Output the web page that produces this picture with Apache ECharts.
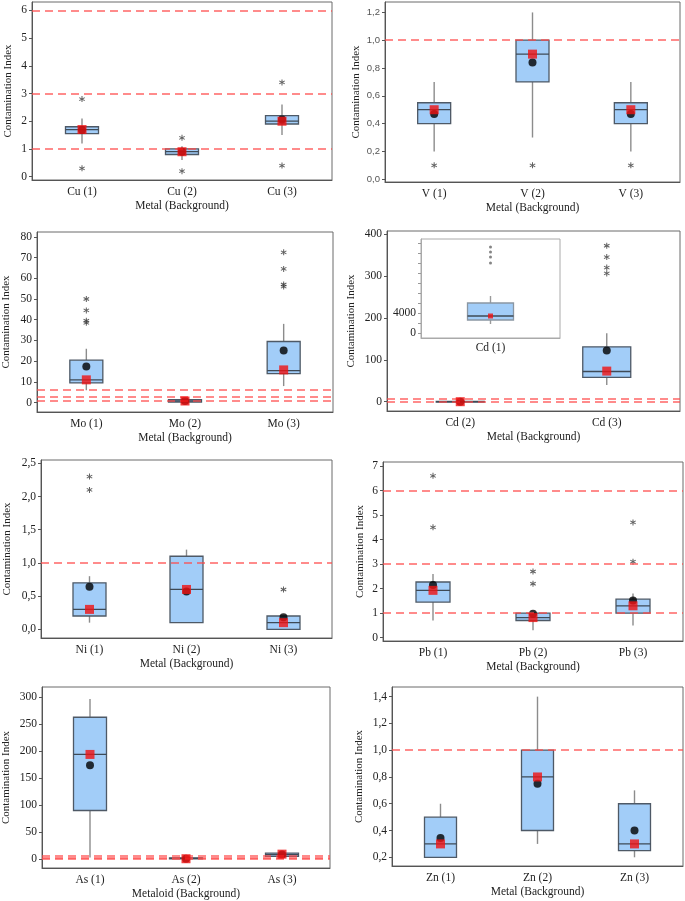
<!DOCTYPE html>
<html>
<head>
<meta charset="utf-8">
<script src="https://cdn.jsdelivr.net/npm/echarts@6/dist/echarts.min.js"></script>
<style>
html,body{margin:0;padding:0;background:#fff;}
#chart{width:685px;height:901px;}
</style>
</head>
<body>
<div id="chart"></div>
<script>
// ---------- DATA ----------
// boxes: [lower whisker, Q1, median, Q3, upper whisker]
const cuCategories = ['Cu (1)', 'Cu (2)', 'Cu (3)'];
const cuBoxes = [[1.2, 1.55, 1.7, 1.8, 2.1], [0.6, 0.8, 0.9, 1.0, 1.1], [1.5, 1.9, 2.0, 2.2, 2.6]];
const cuMedians = [1.7, 0.9, 2.0];
const cuMeans = [1.68, 0.9, 2.06];
const cuOutliers = [['Cu (1)', 2.8], ['Cu (1)', 0.3], ['Cu (2)', 1.4], ['Cu (2)', 0.2], ['Cu (3)', 3.4], ['Cu (3)', 0.4]];
const cuRefLines = [1, 3, 6];
const cuTicks = [0, 1, 2, 3, 4, 5, 6];

const vCategories = ['V (1)', 'V (2)', 'V (3)'];
const vBoxes = [[0.2, 0.4, 0.5, 0.55, 0.7], [0.3, 0.7, 0.9, 1.0, 1.2], [0.2, 0.4, 0.5, 0.55, 0.7]];
const vMedians = [0.5, 0.9, 0.5];
const vMeans = [0.47, 0.84, 0.47];
const vOutliers = [['V (1)', 0.1], ['V (2)', 0.1], ['V (3)', 0.1]];
const vRefLines = [1.0];
const vTicks = [0, 0.2, 0.4, 0.6, 0.8, 1.0, 1.2];

const moCategories = ['Mo (1)', 'Mo (2)', 'Mo (3)'];
const moBoxes = [[6, 9.5, 11, 20.5, 26], [0.2, 0.3, 0.8, 1.5, 1.5], [8, 14, 15.5, 29.5, 38]];
const moMedians = [11, 0.8, 15.8];
const moMeans = [17.5, 0.8, 25.2];
const moOutliers = [['Mo (1)', 50], ['Mo (1)', 44.5], ['Mo (1)', 39.5], ['Mo (1)', 38.5],
                    ['Mo (3)', 72.5], ['Mo (3)', 64.5], ['Mo (3)', 57], ['Mo (3)', 56]];
const moRefLines = [1, 3, 6];
const moTicks = [0, 10, 20, 30, 40, 50, 60, 70, 80];

const cdCategories = ['Cd (2)', 'Cd (3)'];
const cdBoxes = [[0, 0, 0, 0.6, 0.6], [40, 58, 72, 131, 163]];
const cdMedians = [0, 73];
const cdMeans = [0, 122];
const cdOutliers = [['Cd (3)', 372], ['Cd (3)', 345], ['Cd (3)', 320], ['Cd (3)', 306]];
const cdRefLines = [1, 6];
const cdTicks = [0, 100, 200, 300, 400];

const cd1Categories = ['Cd (1)'];
const cd1Boxes = [[1800, 2600, 3400, 6000, 7400]];
const cd1Medians = [3400];
const cd1Outliers = [['Cd (1)', 17200], ['Cd (1)', 16200], ['Cd (1)', 15200], ['Cd (1)', 14000]];
const cd1RefLines = [0];
const cd1Ticks = [0, 2000, 4000, 6000, 8000, 10000, 12000, 14000, 16000, 18000];
const cd1TickLabels = [0, 4000];

const niCategories = ['Ni (1)', 'Ni (2)', 'Ni (3)'];
const niBoxes = [[0.1, 0.2, 0.3, 0.7, 0.8], [0.1, 0.1, 0.6, 1.1, 1.2], [0, 0, 0.1, 0.2, 0.2]];
const niMedians = [0.3, 0.6, 0.1];
const niMeans = [0.64, 0.57, 0.18];
const niOutliers = [['Ni (1)', 2.3], ['Ni (1)', 2.1], ['Ni (3)', 0.6]];
const niRefLines = [1.0];
const niTicks = [0, 0.5, 1.0, 1.5, 2.0, 2.5];

const pbCategories = ['Pb (1)', 'Pb (2)', 'Pb (3)'];
const pbBoxes = [[0.7, 1.45, 1.93, 2.27, 2.6], [0.3, 0.7, 0.82, 1.0, 1.0], [0.5, 1.0, 1.3, 1.57, 1.8]];
const pbMedians = [1.93, 0.82, 1.3];
const pbMeans = [2.15, 0.98, 1.52];
const pbOutliers = [['Pb (1)', 6.6], ['Pb (1)', 4.5], ['Pb (2)', 2.7], ['Pb (2)', 2.2], ['Pb (3)', 4.7], ['Pb (3)', 3.1]];
const pbRefLines = [1, 3, 6];
const pbTicks = [0, 1, 2, 3, 4, 5, 6, 7];

const asCategories = ['As (1)', 'As (2)', 'As (3)'];
const asBoxes = [[3, 90, 194, 263, 297], [0.5, 0.5, 1, 2, 2], [3, 5, 8, 11, 12]];
const asMedians = [194, 0.5, 9];
const asMeans = [174, 0.5, 8.5];
const asOutliers = [];
const asRefLines = [1, 3, 6];
const asTicks = [0, 50, 100, 150, 200, 250, 300];

const znCategories = ['Zn (1)', 'Zn (2)', 'Zn (3)'];
const znBoxes = [[0.2, 0.2, 0.3, 0.5, 0.6], [0.3, 0.4, 0.8, 1.0, 1.4], [0.2, 0.25, 0.3, 0.6, 0.7]];
const znMedians = [0.3, 0.8, 0.3];
const znMeans = [0.345, 0.75, 0.4];
const znOutliers = [];
const znRefLines = [1.0];
const znTicks = [0.2, 0.4, 0.6, 0.8, 1.0, 1.2, 1.4];

// ---------- LAYOUT / STYLE ----------
const SERIF = '"Liberation Serif", "DejaVu Serif", serif';
const SANS = '"Liberation Sans", Arial, sans-serif';
const ASTERISK = 'path://M-0.8,-5L0.8,-5L0.8,5L-0.8,5Z M3.93,3.19L-4.73,-1.81L-3.93,-3.19L4.73,1.81Z M-4.73,1.81L3.93,-3.19L4.73,-1.81L-3.93,3.19Z';
const comma1 = v => Number(v).toFixed(1).replace('.', ',');

const panels = [
  {cats: cuCategories, boxes: cuBoxes, meds: cuMedians, means: cuMeans, outs: cuOutliers, refs: cuRefLines, ticks: cuTicks,
   left: 32, top: 2, width: 300, height: 178, min: -0.12, max: 6.3, boxW: 33, yGap: 18, xName: 'Metal (Background)'},
  {cats: vCategories, boxes: vBoxes, meds: vMedians, means: vMeans, outs: vOutliers, refs: vRefLines, ticks: vTicks,
   left: 385, top: 2, width: 295, height: 180, min: -0.02, max: 1.275, boxW: 33, yGap: 23, xName: 'Metal (Background)', fmt: comma1, sans: true},
  {cats: moCategories, boxes: moBoxes, meds: moMedians, means: moMeans, outs: moOutliers, refs: moRefLines, ticks: moTicks,
   left: 37, top: 232, width: 296, height: 180, min: -4.5, max: 82.3, boxW: 33, yGap: 25, xName: 'Metal (Background)'},
  {cats: cdCategories, boxes: cdBoxes, meds: cdMedians, means: cdMeans, outs: cdOutliers, refs: cdRefLines, ticks: cdTicks,
   left: 387, top: 231, width: 293, height: 180, min: -22.2, max: 407.2, boxW: 48, yGap: 30, xName: 'Metal (Background)'},
  {cats: niCategories, boxes: niBoxes, meds: niMedians, means: niMeans, outs: niOutliers, refs: niRefLines, ticks: niTicks,
   left: 41, top: 460, width: 291, height: 178, min: -0.131, max: 2.55, boxW: 33, yGap: 28, xName: 'Metal (Background)', fmt: comma1},
  {cats: pbCategories, boxes: pbBoxes, meds: pbMedians, means: pbMeans, outs: pbOutliers, refs: pbRefLines, ticks: pbTicks,
   left: 383, top: 462, width: 300, height: 179, min: -0.135, max: 7.163, boxW: 34, yGap: 17, xName: 'Metal (Background)'},
  {cats: asCategories, boxes: asBoxes, meds: asMedians, means: asMeans, outs: asOutliers, refs: asRefLines, ticks: asTicks,
   left: 42, top: 687, width: 288, height: 181, min: -16.7, max: 319.1, boxW: 33, yGap: 30, xName: 'Metaloid (Background)'},
  {cats: znCategories, boxes: znBoxes, meds: znMedians, means: znMeans, outs: znOutliers, refs: znRefLines, ticks: znTicks,
   left: 392, top: 687, width: 291, height: 179, min: 0.135, max: 1.472, boxW: 32, yGap: 27, xName: 'Metal (Background)', fmt: comma1}
];

const grid = [], xAxis = [], yAxis = [], series = [];

function boxRenderer(boxW, whiskerColor, boxStroke) {
  return function (params, api) {
    const i = api.value(0);
    const pLo = api.coord([i, api.value(1)]);
    const pQ1 = api.coord([i, api.value(2)]);
    const pMed = api.coord([i, api.value(3)]);
    const pQ3 = api.coord([i, api.value(4)]);
    const pHi = api.coord([i, api.value(5)]);
    const x = pQ1[0];
    return {
      type: 'group',
      children: [
        {type: 'line', shape: {x1: x, y1: pLo[1], x2: x, y2: pQ1[1]}, style: {stroke: whiskerColor, lineWidth: 1.4}},
        {type: 'line', shape: {x1: x, y1: pQ3[1], x2: x, y2: pHi[1]}, style: {stroke: whiskerColor, lineWidth: 1.4}},
        {type: 'rect', shape: {x: x - boxW / 2, y: pQ3[1], width: boxW, height: Math.max(pQ1[1] - pQ3[1], 0.6)},
         style: {fill: '#a2cdf8', stroke: boxStroke, lineWidth: 1.3}},
        {type: 'line', shape: {x1: x - boxW / 2, y1: pMed[1], x2: x + boxW / 2, y2: pMed[1]}, style: {stroke: '#3e4a56', lineWidth: 1.3}}
      ]
    };
  };
}

panels.forEach((p, k) => {
  grid.push({show: true, left: p.left, top: p.top, width: p.width, height: p.height,
             borderColor: '#6a6a6a', borderWidth: 1, backgroundColor: '#fff', outerBoundsMode: 'none', containLabel: false});
  xAxis.push({type: 'category', gridIndex: k, data: p.cats, boundaryGap: true,
    name: p.xName, nameLocation: 'middle', nameGap: 20,
    nameTextStyle: {fontFamily: SERIF, fontSize: 11.5, color: '#222'},
    axisLine: {onZero: false, lineStyle: {color: '#555', width: 1}},
    axisTick: {alignWithLabel: true, length: 4, lineStyle: {color: '#555'}},
    axisLabel: {fontFamily: SERIF, fontSize: 11.5, color: '#222', margin: 6},
    splitLine: {show: false}});
  yAxis.push({type: 'value', gridIndex: k, min: p.min, max: p.max,
    name: 'Contamination Index', nameLocation: 'middle', nameGap: p.yGap,
    nameTextStyle: {fontFamily: SERIF, fontSize: 11, color: '#222'},
    axisLine: {show: true, onZero: false, lineStyle: {color: '#555', width: 1}},
    axisTick: {show: true, length: 3, customValues: p.ticks, lineStyle: {color: '#555'}},
    axisLabel: {customValues: p.ticks, margin: 5,
      fontFamily: p.sans ? SANS : SERIF, fontSize: p.sans ? 9.5 : 11.5, color: p.sans ? '#555' : '#222',
      formatter: p.fmt ? p.fmt : (v => String(v))},
    splitLine: {show: false}});
  series.push({type: 'custom', xAxisIndex: k, yAxisIndex: k, z: 2,
    renderItem: boxRenderer(p.boxW, '#8c8c8c', '#4e5966'),
    encode: {x: 0, y: [1, 2, 3, 4, 5]},
    data: p.boxes.map((b, i) => [i].concat(b)), silent: true, animation: false});
  series.push({type: 'scatter', xAxisIndex: k, yAxisIndex: k, z: 4, symbol: 'circle', symbolSize: 8,
    itemStyle: {color: '#000'}, data: p.means.map((v, i) => [i, v]), silent: true, animation: false,
    markLine: {silent: true, symbol: 'none', label: {show: false}, animation: false,
      lineStyle: {color: '#ff4a4a', type: [8, 5], width: 1.5, opacity: 0.85},
      data: p.refs.map(v => ({yAxis: v}))}});
  series.push({type: 'scatter', xAxisIndex: k, yAxisIndex: k, z: 5, symbol: 'rect', symbolSize: 9,
    itemStyle: {color: '#f01212'}, data: p.meds.map((v, i) => [i, v]), silent: true, animation: false});
  series.push({type: 'scatter', xAxisIndex: k, yAxisIndex: k, z: 4, symbol: ASTERISK, symbolSize: 6,
    itemStyle: {color: '#3a3a3a'}, data: p.outs, silent: true, animation: false});
});

// Inset for Cd (1)
const ki = panels.length;
grid.push({show: true, left: 421, top: 239, width: 139, height: 99, borderColor: '#aaa', borderWidth: 1,
           backgroundColor: '#fff', outerBoundsMode: 'none', containLabel: false, z: 10});
xAxis.push({type: 'category', gridIndex: ki, data: cd1Categories, boundaryGap: true, z: 10,
  axisLine: {onZero: false, lineStyle: {color: '#aaa'}}, axisTick: {alignWithLabel: true, length: 3, lineStyle: {color: '#999'}},
  axisLabel: {fontFamily: SERIF, fontSize: 11.5, color: '#222', margin: 4}});
yAxis.push({type: 'value', gridIndex: ki, min: -1000, max: 18800, z: 10,
  axisLine: {show: true, onZero: false, lineStyle: {color: '#aaa'}},
  axisTick: {show: true, length: 3, customValues: cd1Ticks, lineStyle: {color: '#999'}},
  axisLabel: {customValues: cd1TickLabels, fontFamily: SERIF, fontSize: 11.5, color: '#222', margin: 5,
    formatter: v => String(v)},
  splitLine: {show: false}});
series.push({type: 'custom', xAxisIndex: ki, yAxisIndex: ki, z: 11,
  renderItem: boxRenderer(46, '#9a9a9a', '#8a96a2'),
  encode: {x: 0, y: [1, 2, 3, 4, 5]},
  data: cd1Boxes.map((b, i) => [i].concat(b)), silent: true, animation: false,
  markLine: {silent: true, symbol: 'none', label: {show: false}, animation: false,
    lineStyle: {color: '#f28a8a', type: [3, 2], width: 1, opacity: 0.9},
    data: cd1RefLines.map(v => ({yAxis: v}))}});
series.push({type: 'scatter', xAxisIndex: ki, yAxisIndex: ki, z: 12, symbol: 'rect', symbolSize: 5,
  itemStyle: {color: '#f01212'}, data: cd1Medians.map((v, i) => [i, v]), silent: true, animation: false});
series.push({type: 'scatter', xAxisIndex: ki, yAxisIndex: ki, z: 12, symbol: 'circle', symbolSize: 3,
  itemStyle: {color: '#666'}, data: cd1Outliers, silent: true, animation: false});

const chart = echarts.init(document.getElementById('chart'), null, {renderer: 'canvas'});
chart.setOption({animation: false, backgroundColor: '#fff', grid, xAxis, yAxis, series});
</script>
</body>
</html>
